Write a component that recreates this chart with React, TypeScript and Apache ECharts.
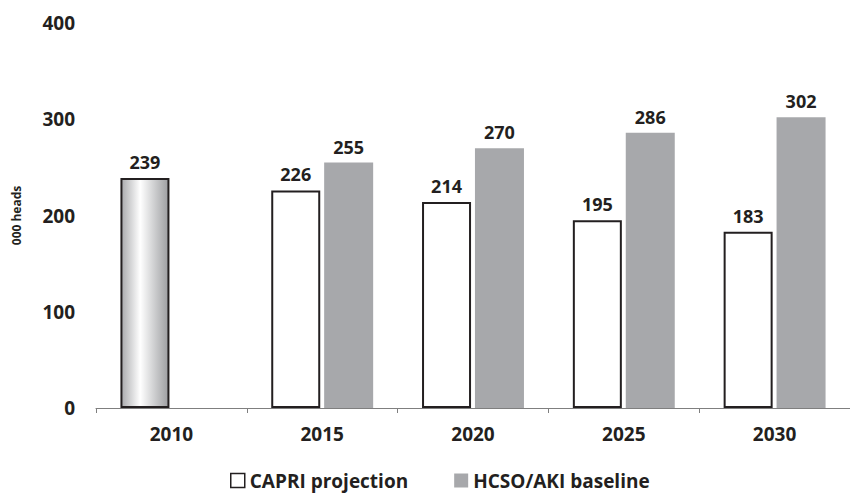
import React, { useEffect, useRef } from "react";
import * as echarts from "echarts";

const categories = ["2010", "2015", "2020", "2025", "2030"];
const capriValues: (number | null)[] = [239, 226, 214, 195, 183];
const hcsoValues: (number | null)[] = [null, 255, 270, 286, 302];
const seriesNames = ["CAPRI projection", "HCSO/AKI baseline"];
const yTicks = [0, 100, 200, 300, 400];

const FONT = "'Open Sans', 'Noto Sans', sans-serif";
const TEXT = "#231f20";
const GREY = "#a7a8ab";

export default function App() {
  const ref = useRef<HTMLDivElement>(null);
  useEffect(() => {
    if (!ref.current) return;
    const chart = echarts.init(ref.current, undefined, { renderer: "svg" });
    const gradient = new echarts.graphic.LinearGradient(0, 0, 1, 0, [
      { offset: 0, color: "#a9aaad" },
      { offset: 0.4, color: "#ffffff" },
      { offset: 1, color: "#9d9ea1" },
    ]);
    const labelStyle = {
      show: true,
      position: "top" as const,
      distance: 7,
      fontFamily: FONT,
      fontWeight: "bold" as const,
      fontSize: 18,
      color: TEXT,
    };
    chart.setOption({
      animation: false,
      grid: { left: 96, right: -6, top: 23, bottom: 85, containLabel: false },
      legend: {
        top: 466,
        left: 225,
        itemWidth: 14,
        itemHeight: 14,
        itemGap: 46,
        textStyle: { fontFamily: FONT, fontWeight: "bold", fontSize: 19, color: TEXT },
        data: [
          { name: seriesNames[0], icon: "rect", itemStyle: { color: "#ffffff", borderColor: TEXT, borderWidth: 1.5 } },
          { name: seriesNames[1], icon: "rect", itemStyle: { color: GREY } },
        ],
      },
      xAxis: {
        type: "category",
        data: categories,
        axisLine: { show: true, lineStyle: { color: "#7f7f7f", width: 1 } },
        axisTick: { show: true, length: 5, lineStyle: { color: "#7f7f7f" } },
        axisLabel: { fontFamily: FONT, fontWeight: "bold", fontSize: 19, color: TEXT, margin: 16 },
      },
      yAxis: {
        type: "value",
        min: yTicks[0],
        max: yTicks[yTicks.length - 1],
        interval: 100,
        name: "000 heads",
        nameLocation: "middle",
        nameGap: 74,
        nameTextStyle: { fontFamily: FONT, fontWeight: "bold", fontSize: 12, color: TEXT },
        axisLine: { show: false },
        axisTick: { show: false },
        splitLine: { show: false },
        axisLabel: { fontFamily: FONT, fontWeight: "bold", fontSize: 19, color: TEXT, margin: 21 },
      },
      series: [
        {
          name: seriesNames[0],
          type: "bar",
          barWidth: 49,
          barGap: "8%",
          data: capriValues.map((v, i) =>
            i === 0
              ? { value: v, itemStyle: { color: gradient, borderColor: TEXT, borderWidth: 2 } }
              : v
          ),
          itemStyle: { color: "#ffffff", borderColor: TEXT, borderWidth: 2 },
          label: labelStyle,
        },
        {
          name: seriesNames[1],
          type: "bar",
          barWidth: 49,
          barGap: "8%",
          data: hcsoValues,
          itemStyle: { color: GREY },
          label: labelStyle,
        },
      ],
    });
    return () => chart.dispose();
  }, []);
  return <div ref={ref} style={{ width: 850, height: 493, position: "absolute", left: 0, top: 0 }} />;
}
